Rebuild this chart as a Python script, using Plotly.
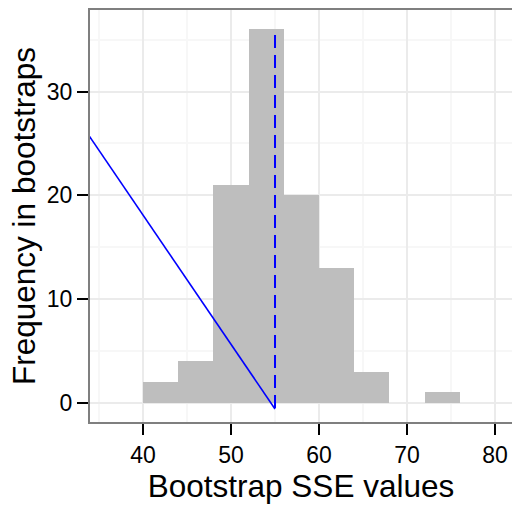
import plotly.graph_objects as go

# Histogram data (bin width 4, left edges)
bin_left = [40, 44, 48, 52, 56, 60, 64, 68, 72]
counts = [2, 4, 21, 36, 20, 13, 3, 0, 1]
bin_width = 4

# Reference lines
diag_x = [33.9, 55.0]
diag_y = [25.7, -0.6]
vline_x = [55.0, 55.0]
vline_y = [-0.5, 36.0]

x_ticks = [40, 50, 60, 70, 80]
y_ticks = [0, 10, 20, 30]

centers = [b + bin_width / 2 for b in bin_left]

fig = go.Figure()
fig.add_trace(go.Bar(x=centers, y=counts, width=[bin_width] * len(counts),
                     marker=dict(color="#BEBEBE", line=dict(width=0)),
                     showlegend=False, hoverinfo="skip"))
fig.add_trace(go.Scatter(x=diag_x, y=diag_y, mode="lines",
                         line=dict(color="#0000FF", width=1.6),
                         showlegend=False))
fig.add_trace(go.Scatter(x=vline_x, y=vline_y, mode="lines",
                         line=dict(color="#0000FF", width=2, dash="13px,7px"),
                         showlegend=False))

font = "Liberation Sans, Arial, sans-serif"
fig.update_layout(
    width=512, height=508,
    margin=dict(l=90, r=0, t=10, b=86),
    paper_bgcolor="white", plot_bgcolor="white",
    bargap=0,
    font=dict(family=font, color="black"),
    xaxis=dict(range=[33.977, 81.93], tickvals=x_ticks, ticktext=[str(v) for v in x_ticks],
               showgrid=True, gridcolor="#EBEBEB", gridwidth=2,
               minor=dict(showgrid=True, gridcolor="#F7F7F7", gridwidth=1.5, dtick=5, tick0=35),
               showline=True, linecolor="#7F7F7F", linewidth=2, mirror=True,
               ticks="outside", ticklen=11, tickwidth=2, tickcolor="black",
               tickfont=dict(size=23, color="black"),
               title=dict(text="Bootstrap SSE values", font=dict(size=31.5, color="black"), standoff=6),
               zeroline=False),
    yaxis=dict(range=[-1.86, 37.87], tickvals=y_ticks, ticktext=[str(v) for v in y_ticks],
               showgrid=True, gridcolor="#EBEBEB", gridwidth=2,
               minor=dict(showgrid=True, gridcolor="#F7F7F7", gridwidth=1.5, dtick=10, tick0=5),
               showline=True, linecolor="#7F7F7F", linewidth=2, mirror=False,
               ticks="outside", ticklen=11, tickwidth=2, tickcolor="black",
               tickfont=dict(size=23, color="black"),
               title=dict(text="Frequency in bootstraps", font=dict(size=31.5, color="black"), standoff=2),
               zeroline=False),
)
fig.write_html("out.html")
